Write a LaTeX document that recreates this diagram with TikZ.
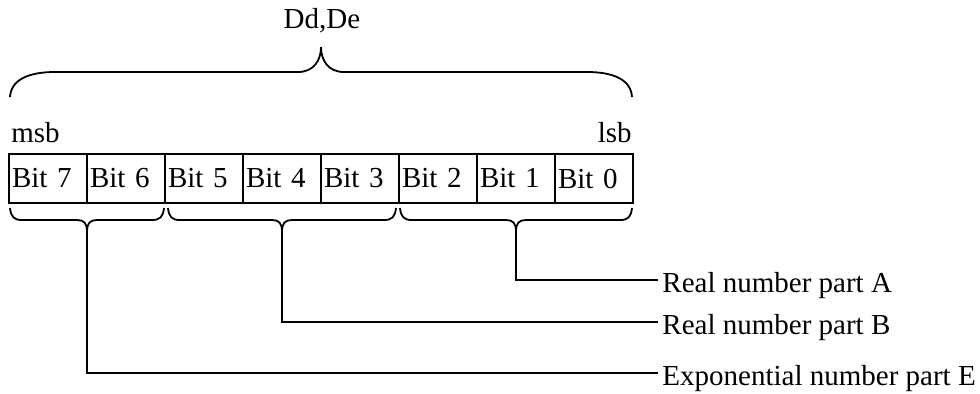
\documentclass[tikz,border=0pt]{standalone}
\usepackage{fontspec}
\setmainfont{Liberation Serif}

\tikzset{
  bitcell/.style={draw, line width=1pt, anchor=north west, minimum width=39pt,
    minimum height=24.5pt, text width=36pt, align=left, inner xsep=1.5pt, inner ysep=0pt},
  brace/.style={line width=0.9pt},
  lead/.style={line width=0.9pt},
  lbl/.style={inner sep=0pt}
}

% lower brace: left x, right x, name of the tip
\newcommand{\lowbrace}[3]{%
  \draw[brace] (#1,208) .. controls ({#1+1},217) and ({#1+4},220) .. ({#1+12},220)
    -- ({(#1+#2)/2-10},220) .. controls ({(#1+#2)/2-3},220) and ({(#1+#2)/2},223) .. ({(#1+#2)/2},232)
    coordinate (#3)
    .. controls ({(#1+#2)/2},223) and ({(#1+#2)/2+3},220) .. ({(#1+#2)/2+10},220)
    -- ({#2-12},220) .. controls ({#2-4},220) and ({#2-1},217) .. (#2,208);}

\begin{document}
\begin{tikzpicture}[x=0.5pt, y=-0.5pt, font=\fontsize{14.5}{17}\selectfont]
    \useasboundingbox (0,0) rectangle (980,393);

    % top brace
    \node[lbl, anchor=base] (word) at (322,28) {Dd,De};
    \draw[brace] (10,97) .. controls (11,80) and (28,72) .. (55,72) -- (298,72)
        .. controls (314,72) and (321,60) .. (321,47) coordinate (toptip)
        .. controls (321,60) and (328,72) .. (344,72) -- (587,72)
        .. controls (614,72) and (631,80) .. (632,97);

    \node[lbl, anchor=base west] (msb) at (11,142) {msb};
    \node[lbl, anchor=base east] (lsb) at (632,142) {lsb};

    % the byte
    \foreach \i in {7,...,0}
        \node[bitcell] (b\i) at ({8+78*(7-\i)},153) {Bit \i};

    % parts
    \lowbrace{10}{164}{tipE}
    \lowbrace{168}{396}{tipB}
    \lowbrace{400}{632}{tipA}

    \node[lbl, anchor=base west] (partA) at (662,292) {Real number part A};
    \node[lbl, anchor=base west] (partB) at (662,334) {Real number part B};
    \node[lbl, anchor=base west] (partE) at (662,385) {Exponential number part E};

    \draw[lead] (tipA) |- ([xshift=-2pt, yshift=6pt]partA.base west);
    \draw[lead] (tipB) |- ([xshift=-2pt, yshift=6pt]partB.base west);
    \draw[lead] (tipE) |- ([xshift=-2pt, yshift=6pt]partE.base west);
\end{tikzpicture}
\end{document}
